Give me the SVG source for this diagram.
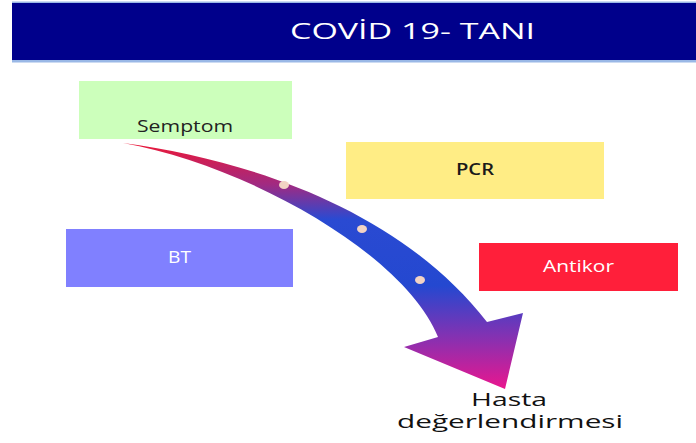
<svg xmlns="http://www.w3.org/2000/svg" width="696" height="443" viewBox="0 0 696 443">
<style>
.t{font-family:"Open Sans","Liberation Sans",sans-serif;}
.lbl{font-size:15.5px;}
.dot{fill:#f2d3c4;}
</style>
<defs>
<linearGradient id="arrowGrad" gradientUnits="userSpaceOnUse" x1="0" y1="143" x2="0" y2="389">
<stop offset="0" stop-color="#ec1838"/>
<stop offset="0.17" stop-color="#a02a82"/>
<stop offset="0.31" stop-color="#2a4ad2"/>
<stop offset="0.58" stop-color="#2448d0"/>
<stop offset="0.8" stop-color="#8a30b0"/>
<stop offset="1" stop-color="#ea168e"/>
</linearGradient>
</defs>
<rect width="696" height="443" fill="#ffffff"/>
<g id="header">
<rect x="12" y="1.5" width="684" height="61" fill="#9ab8e6"/>
<rect x="12" y="3" width="684" height="57" fill="#00008b"/>
<text class="t" x="290" y="39" font-size="22" fill="#ffffff" textLength="245" lengthAdjust="spacingAndGlyphs">COVİD 19- TANI</text>
</g>
<g id="connectors">
<path d="M123,143 C250,160 400,210 487,322 L523,313 L505,389 L404,347 L438,337 C405,255 250,166 123,143 Z" fill="url(#arrowGrad)"/>
<ellipse class="dot" cx="284" cy="185" rx="5" ry="4"/>
<ellipse class="dot" cx="362" cy="229" rx="5" ry="4"/>
<ellipse class="dot" cx="420" cy="280" rx="5" ry="4"/>
</g>
<g id="semptom">
<rect x="79" y="81" width="213" height="58" fill="#ccffbb"/>
<text class="t lbl" x="137" y="132" fill="#222222" textLength="96" lengthAdjust="spacingAndGlyphs">Semptom</text>
</g>
<g id="pcr">
<rect x="346" y="142" width="258" height="57" fill="#ffed85"/>
<text class="t lbl" x="456" y="175" fill="#1a1a1a" font-weight="600" textLength="38" lengthAdjust="spacingAndGlyphs">PCR</text>
</g>
<g id="bt">
<rect x="66" y="229" width="227" height="58" fill="#8080ff"/>
<text class="t lbl" x="168" y="263" fill="#ffffff" textLength="23" lengthAdjust="spacingAndGlyphs">BT</text>
</g>
<g id="antikor">
<rect x="479" y="243" width="199" height="48" fill="#ff1f3a"/>
<text class="t lbl" x="543" y="272" fill="#ffffff" textLength="71" lengthAdjust="spacingAndGlyphs">Antikor</text>
</g>
<g id="hasta">
<text class="t" x="471" y="406" font-size="18" fill="#111111" textLength="76" lengthAdjust="spacingAndGlyphs">Hasta</text>
<text class="t" x="397" y="428" font-size="18" fill="#111111" textLength="226" lengthAdjust="spacingAndGlyphs">değerlendirmesi</text>
</g>
</svg>
